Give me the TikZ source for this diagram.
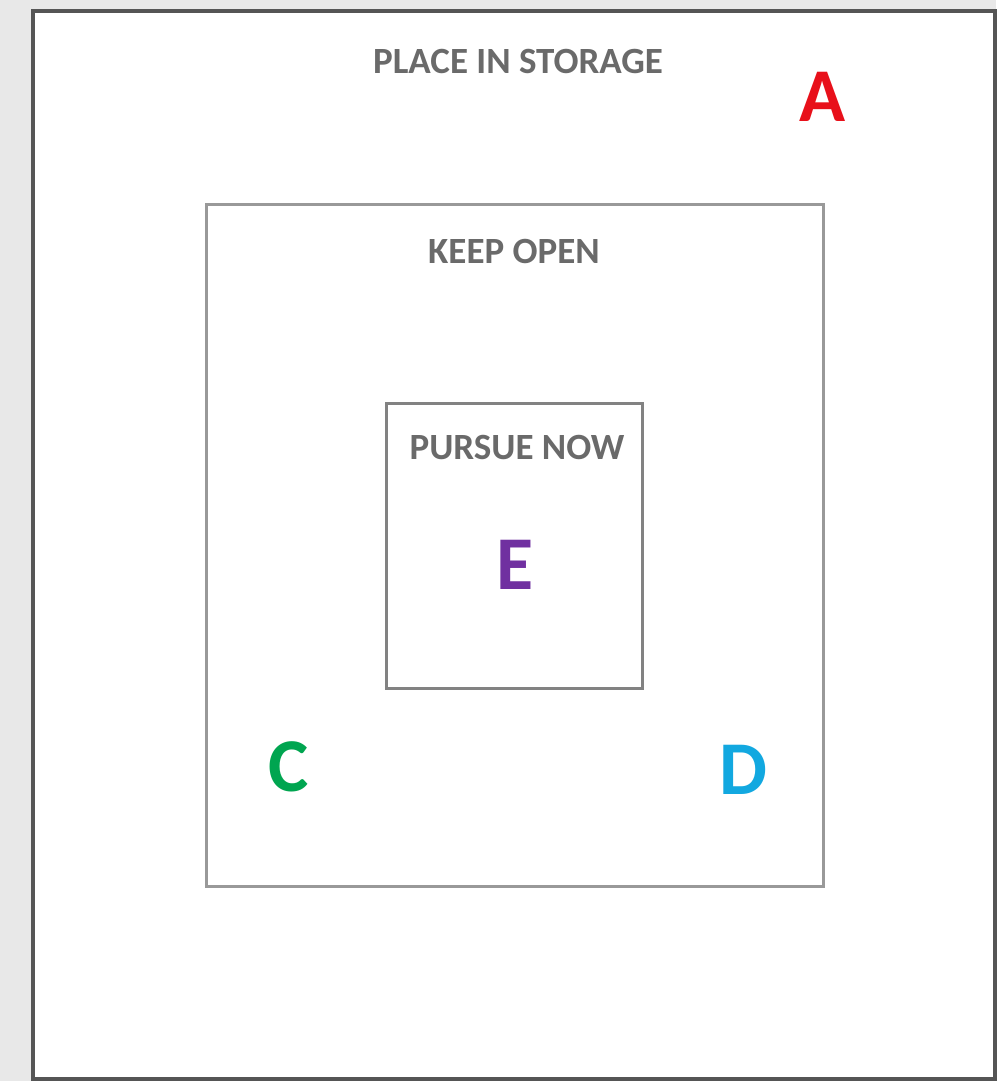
\documentclass[tikz,border=0pt]{standalone}
\usepackage{fontspec}
\setmainfont{Carlito}
\usepackage{tikz}
\usetikzlibrary{backgrounds}
\definecolor{palettebg}{HTML}{E8E8E8}
\definecolor{paletteframe}{HTML}{555555}
\definecolor{palettebox}{HTML}{999999}
\definecolor{palettelabel}{HTML}{6A6A6A}
\definecolor{paletteA}{HTML}{E8101A}
\definecolor{paletteC}{HTML}{00A550}
\definecolor{paletteD}{HTML}{12A8E0}
\definecolor{paletteE}{HTML}{7030A0}
\tikzset{
  zonelabel/.style={align=center, text=palettelabel, font=\bfseries\fontsize{37}{42}\selectfont},
  itemletter/.style={align=center, font=\bfseries\fontsize{76}{80}\selectfont},
}

\begin{document}
\begin{tikzpicture}[x=1pt, y=-1pt]
    \begin{scope}
\useasboundingbox (0,0) rectangle (996,1081);
\fill[palettebg] (0,0) rectangle (996,1081);
\draw[fill=white, draw=paletteframe, line width=4pt] (33,11) rectangle (995,1079);
\draw[draw=palettebox, line width=3pt] (206,204) rectangle (823,886);
\draw[draw=palettebox!85!black, line width=3pt] (386,403) rectangle (642,688);
\node[zonelabel] (storage) at (518,61) {PLACE IN STORAGE};
\node[zonelabel] (keepopen) at (514,251) {KEEP OPEN};
\node[zonelabel] (pursuenow) at (517,447) {PURSUE NOW};
\node[itemletter, text=paletteA] (itemA) at (823,97) {A};
\node[itemletter, text=paletteE] (itemE) at (515,565) {E};
\node[itemletter, text=paletteC] (itemC) at (289,767) {C};
\node[itemletter, text=paletteD] (itemD) at (743,770) {D};
\end{scope}
    \end{tikzpicture}
\end{document}
